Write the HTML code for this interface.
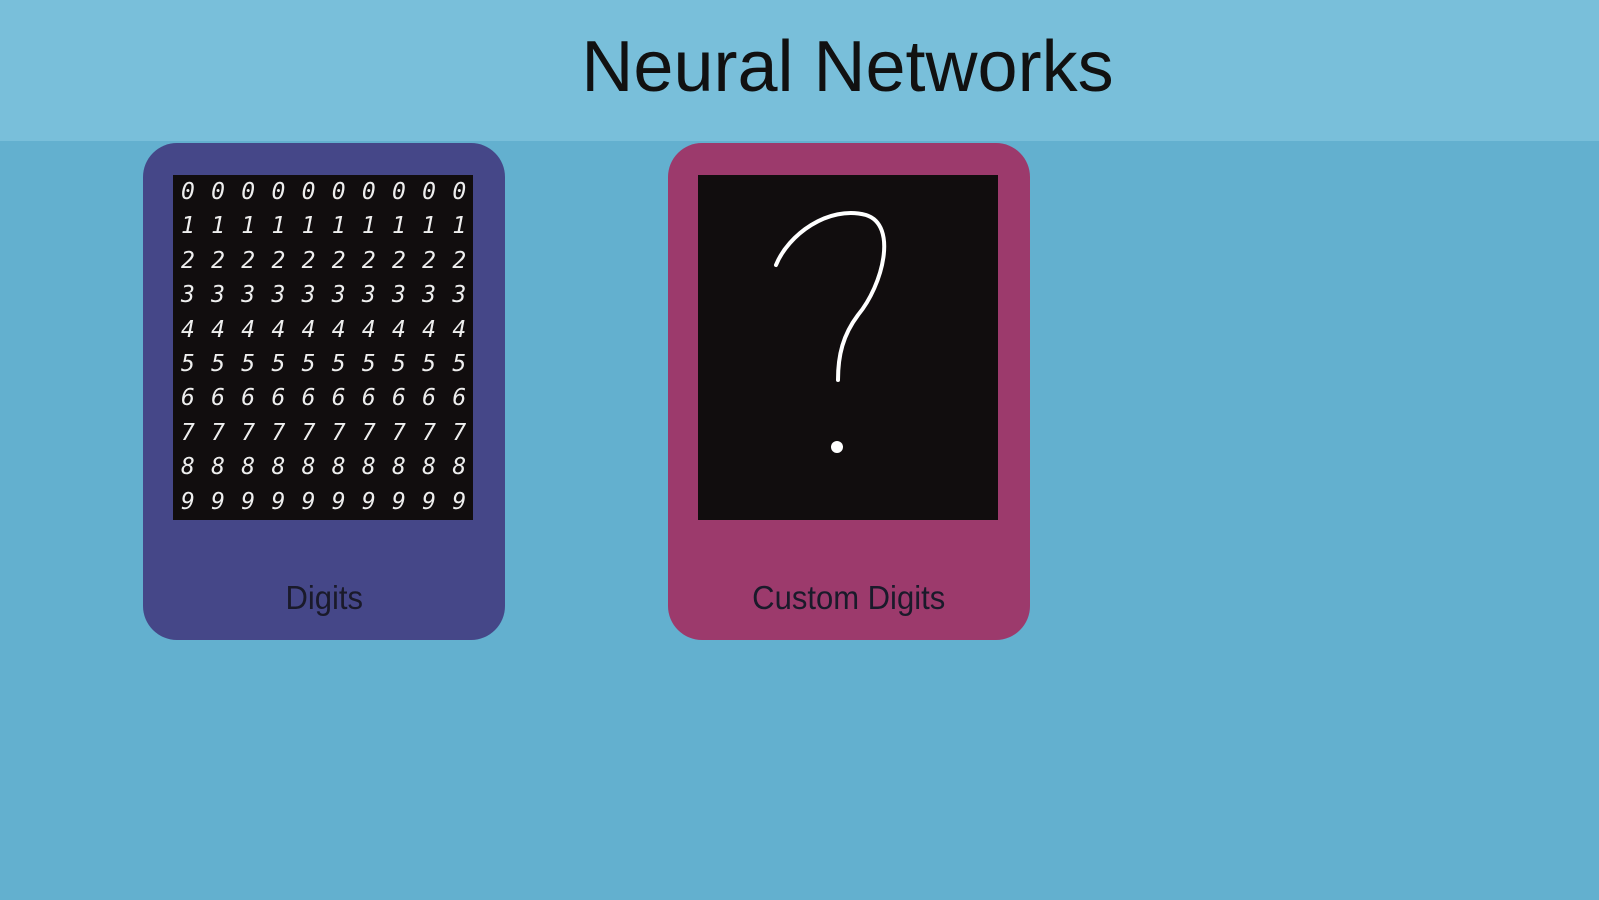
<!DOCTYPE html>
<html><head><meta charset="utf-8"><style>
html,body{margin:0;padding:0;width:1599px;height:900px;overflow:hidden;background:#63b0cf;font-family:"Liberation Sans",sans-serif}
.hdr{position:absolute;left:0;top:0;width:1599px;height:141px;background:#79bfda}
.title{position:absolute;left:48px;width:1599px;top:22px;text-align:center;color:#111;font-size:72px;line-height:90px}
.card{position:absolute;top:143px;width:362px;height:497px;border-radius:34px}
.img{position:absolute;top:32px;background:#110d0e}
.lbl{position:absolute;left:0;width:100%;top:436px;text-align:center;font-size:33px;color:#1a1a2a}
.lbl span{display:inline-block;transform:scaleX(0.94)}
.grid{color:#eee;font-family:"DejaVu Sans Mono",monospace;font-size:23px;line-height:34.4px;letter-spacing:16.3px;padding-left:8px;box-sizing:border-box;white-space:pre;font-style:italic;overflow:hidden}
</style></head><body>
<div class="hdr"></div>
<div class="title">Neural Networks</div>
<div class="card" style="left:143px;background:#454788">
 <div class="img grid" style="left:30px;width:300px;height:345px;">0000000000
1111111111
2222222222
3333333333
4444444444
5555555555
6666666666
7777777777
8888888888
9999999999</div>
 <div class="lbl"><span>Digits</span></div>
</div>
<div class="card" style="left:668px;background:#9c3a6c">
 <div class="img" style="left:30px;width:300px;height:345px;">
  <svg width="300" height="345"><path d="M78 90 C 90 60, 130 30, 168 40 C 200 50, 185 110, 160 140 C 145 160, 140 180, 140 205" fill="none" stroke="#fff" stroke-width="4" stroke-linecap="round"/><circle cx="139" cy="272" r="6" fill="#fff"/></svg>
 </div>
 <div class="lbl"><span>Custom Digits</span></div>
</div>
</body></html>
